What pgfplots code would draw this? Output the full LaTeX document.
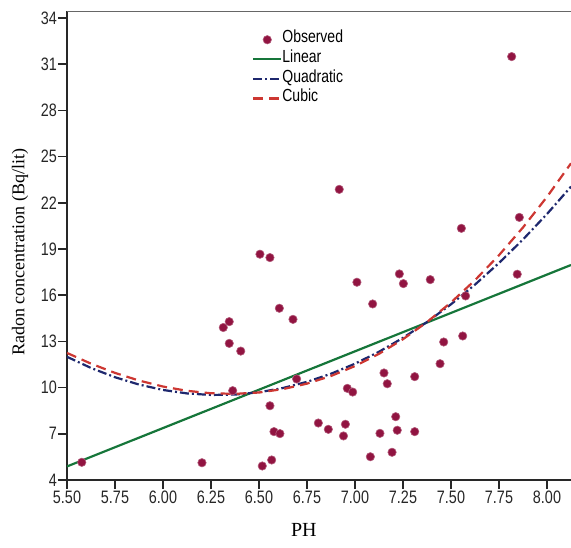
\documentclass[border=0pt]{standalone}
\usepackage{fontspec}
\setmainfont{Liberation Sans}[FakeStretch=0.8]
\newfontfamily\serifyl{Liberation Serif}
\usepackage{pgfplots}
\pgfplotsset{compat=1.18}
\definecolor{obscol}{RGB}{145,20,65}
\definecolor{lincol}{RGB}{22,118,58}
\definecolor{quadcol}{RGB}{30,40,110}
\definecolor{cubcol}{RGB}{205,55,50}
\definecolor{axc}{RGB}{40,40,40}
\begin{document}
\begin{tikzpicture}
\begin{axis}[
  at={(0,0)}, anchor=south west,
  scale only axis, width=504pt, height=469pt,
  xmin=5.5, xmax=8.125, ymin=4, ymax=34.45,
  axis x line*=bottom, axis y line*=left,
  axis line style={axc, line width=1.8pt},
  xtick={5.5,5.75,...,8.01},
  ytick={4,7,...,34},
  tick align=outside,
  major tick length=9pt,
  every tick/.style={axc, line width=1.6pt},
  xticklabel style={/pgf/number format/fixed, /pgf/number format/fixed zerofill, /pgf/number format/precision=2},
  /pgf/number format/assume math mode=true,
  ticklabel style={font=\fontsize{18}{20}\selectfont, text=black!85},
  xticklabel style={inner sep=2pt},
  yticklabel style={inner sep=1pt},
  xlabel={PH},
  xlabel style={font=\serifyl\fontsize{20}{22}\selectfont, at={(axis description cs:0.470,-0.1066)}, anchor=center},
  ylabel={Radon concentration (Bq/lit)},
  ylabel style={font=\serifyl\fontsize{18}{20}\selectfont, at={(axis description cs:-0.0933,0.486)}, anchor=center, rotate=0},
  legend style={draw=none, fill=none, at={(axis description cs:0.367,0.960)}, anchor=north west,
    font=\fontsize{17.5}{19.6}\selectfont, row sep=0pt, inner sep=0pt,
    nodes={inner sep=0pt, text height=13pt, text depth=6.6pt, outer sep=0pt}},
  legend cell align=left,
  legend image code/.code={\draw[mark repeat=2,mark phase=2,#1] plot coordinates {(0pt,0pt) (14pt,0pt) (28pt,0pt)};},
  /tikz/every even column/.append style={column sep=6pt},
  clip=true,
]
\draw[gray!80!black, line width=1.8pt] (rel axis cs:0,1) -- (rel axis cs:1,1);
\addplot[only marks, mark=*, mark size=4.2pt, mark options={fill=obscol, draw=obscol!70!white, line width=0.6pt}] coordinates {
(5.577,5.15) (6.203,5.12) (6.314,13.9) (6.345,14.28) (6.345,12.87) (6.405,12.37)
(6.363,9.8) (6.505,18.66) (6.557,18.44) (6.606,15.15) (6.677,14.43) (6.557,8.82)
(6.578,7.14) (6.609,7.01) (6.566,5.30) (6.517,4.91) (6.696,10.56) (6.809,7.70)
(6.861,7.29) (6.95,7.62) (6.94,6.86) (6.96,9.95) (6.988,9.71) (7.010,16.84)
(7.092,15.43) (7.080,5.51) (7.130,7.03) (7.151,10.95) (7.168,10.25) (7.212,8.11)
(7.220,7.23) (7.193,5.80) (7.311,7.14) (7.311,10.71) (7.231,17.38) (7.252,16.75)
(7.392,17.01) (7.443,11.55) (7.462,12.96) (7.561,13.35) (7.576,15.95) (7.845,17.36)
(7.816,31.49) (6.918,22.87) (7.554,20.34) (7.856,21.05)
};
\addlegendentry{Observed}
\addplot[color=lincol, line width=2.2pt] coordinates {(5.5,4.88) (8.125,17.96)};
\addlegendentry{Linear}
\addplot[color=quadcol, line width=2.2pt, dash pattern=on 9pt off 3pt on 2pt off 3pt] coordinates {
(5.5,12.000) (5.625,11.274) (5.75,10.673) (5.875,10.197) (6.0,9.846) (6.125,9.621)
(6.25,9.521) (6.375,9.546) (6.5,9.696) (6.625,9.972) (6.75,10.373) (6.875,10.899)
(7.0,11.550) (7.125,12.327) (7.25,13.229) (7.375,14.256) (7.5,15.408) (7.625,16.686)
(7.75,18.089) (7.875,19.617) (8.0,21.270) (8.125,23.049)
};
\addlegendentry{Quadratic}
\addplot[color=cubcol, line width=2.2pt, dash pattern=on 10pt off 6pt] coordinates {
(5.5,12.250) (5.625,11.553) (5.75,10.954) (5.875,10.458) (6.0,10.068) (6.125,9.791)
(6.25,9.631) (6.375,9.593) (6.5,9.681) (6.625,9.901) (6.75,10.257) (6.875,10.754)
(7.0,11.397) (7.125,12.192) (7.25,13.141) (7.375,14.252) (7.5,15.528) (7.625,16.974)
(7.75,18.596) (7.875,20.398) (8.0,22.384) (8.125,24.560)
};
\addlegendentry{Cubic}
\end{axis}
\pgfresetboundingbox
\path[use as bounding box] (-67pt,-67pt) rectangle (504pt,480pt);
\end{tikzpicture}
\end{document}
